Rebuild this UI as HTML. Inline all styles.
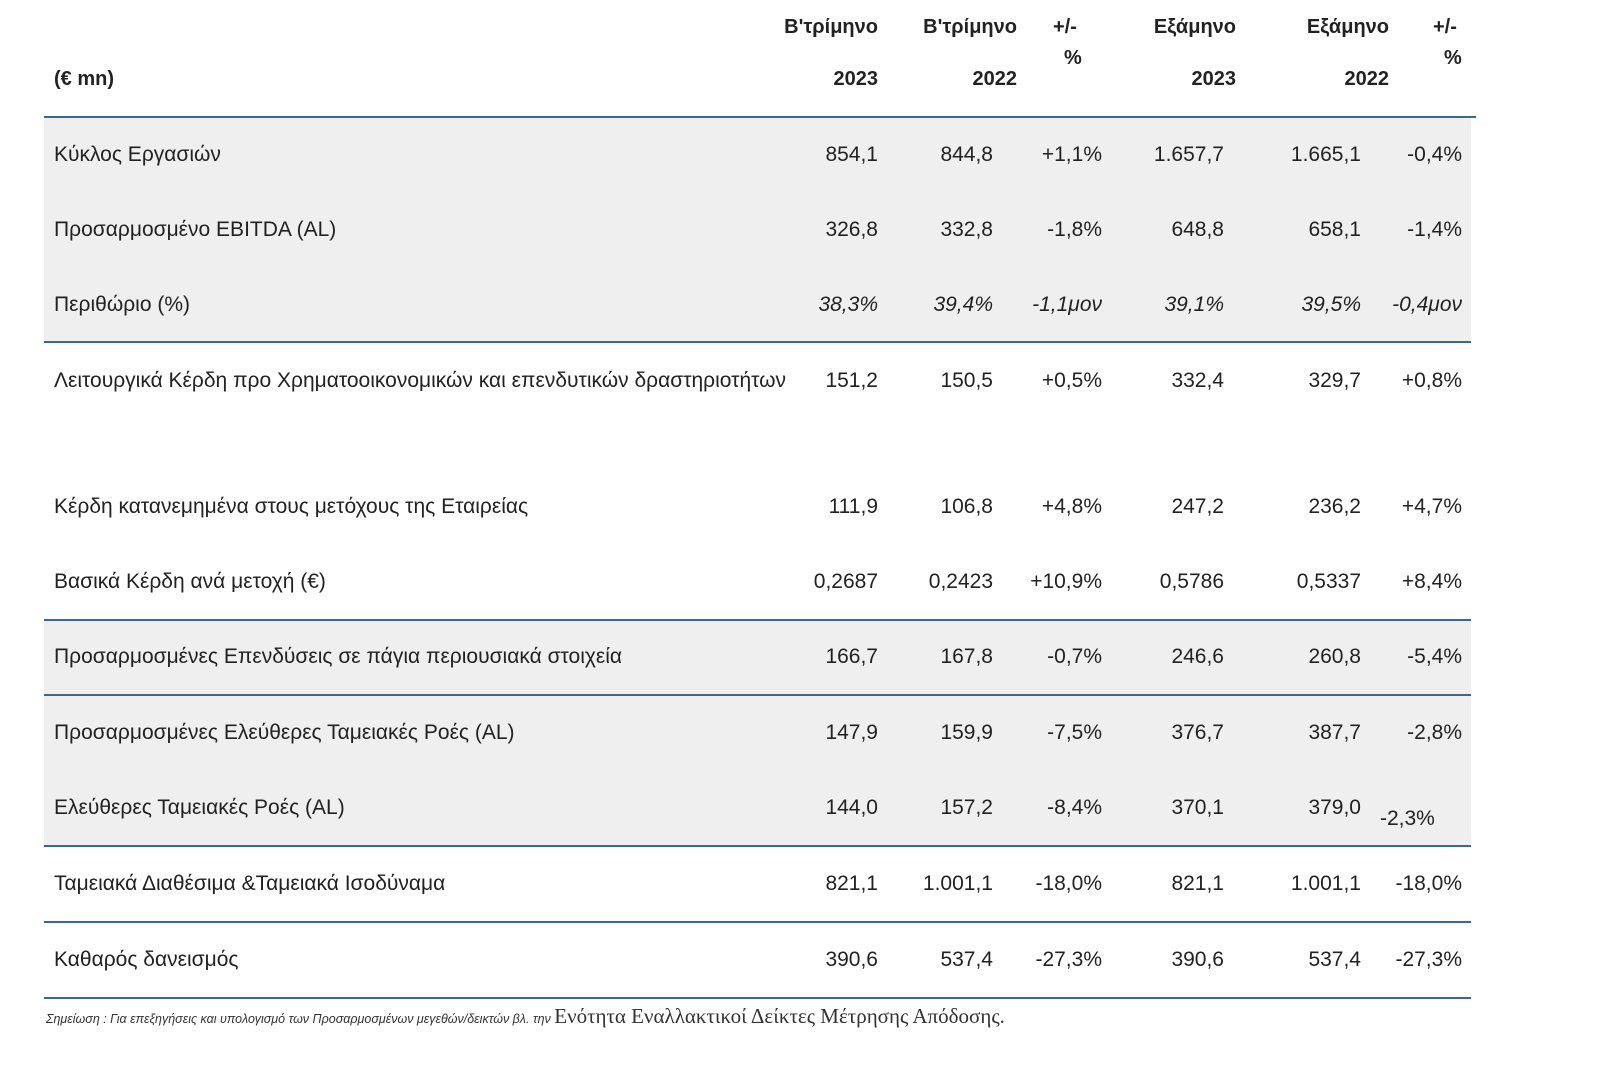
<!DOCTYPE html>
<html><head><meta charset="utf-8"><style>
body{margin:0;width:1600px;height:1081px;background:#fff;position:relative;overflow:hidden;font-family:"Liberation Sans","DejaVu Sans",sans-serif;color:#222;}
.g{position:absolute;left:44px;width:1427px;background:#efefef;}
.l{position:absolute;left:44px;width:1427px;height:2px;background:#3d6791;}
.t{position:absolute;font-size:21px;line-height:24px;white-space:nowrap;}
.r{position:absolute;font-size:21px;line-height:24px;white-space:nowrap;text-align:right;width:140px;}
.b{font-weight:bold;font-size:20px;}
.i{font-style:italic;}
</style></head><body>
<div class="g" style="top:118px;height:224px"></div>
<div class="g" style="top:620px;height:226px"></div>
<div class="l" style="top:116px;width:1432px"></div>
<div class="l" style="top:341px"></div>
<div class="l" style="top:619px"></div>
<div class="l" style="top:694px"></div>
<div class="l" style="top:845px"></div>
<div class="l" style="top:921px"></div>
<div class="l" style="top:997px"></div>

<div class="t b" style="left:54px;top:67px">(€ mn)</div>
<div class="r b" style="left:738px;top:15px">Β'τρίμηνο</div>
<div class="r b" style="left:877px;top:15px">Β'τρίμηνο</div>
<div class="t b" style="left:1053px;top:15px">+/-</div>
<div class="t b" style="left:1064px;top:46px">%</div>
<div class="r b" style="left:1096px;top:15px">Εξάμηνο</div>
<div class="r b" style="left:1249px;top:15px">Εξάμηνο</div>
<div class="t b" style="left:1433px;top:15px">+/-</div>
<div class="t b" style="left:1444px;top:46px">%</div>
<div class="r b" style="left:738px;top:67px">2023</div>
<div class="r b" style="left:877px;top:67px">2022</div>
<div class="r b" style="left:1096px;top:67px">2023</div>
<div class="r b" style="left:1249px;top:67px">2022</div>

<div id="rows"></div>
<script>
var rows=[
[143,"Κύκλος Εργασιών",["854,1","844,8","+1,1%","1.657,7","1.665,1","-0,4%"]],
[218,"Προσαρμοσμένο EBITDA (AL)",["326,8","332,8","-1,8%","648,8","658,1","-1,4%"]],
[293,"Περιθώριο (%)",["38,3%","39,4%","-1,1μον","39,1%","39,5%","-0,4μον"],1],
[369,"Λειτουργικά Κέρδη προ Χρηματοοικονομικών και επενδυτικών δραστηριοτήτων",["151,2","150,5","+0,5%","332,4","329,7","+0,8%"]],
[495,"Κέρδη κατανεμημένα στους μετόχους της Εταιρείας",["111,9","106,8","+4,8%","247,2","236,2","+4,7%"]],
[570,"Βασικά Κέρδη ανά μετοχή (€)",["0,2687","0,2423","+10,9%","0,5786","0,5337","+8,4%"]],
[645,"Προσαρμοσμένες Επενδύσεις σε πάγια περιουσιακά στοιχεία",["166,7","167,8","-0,7%","246,6","260,8","-5,4%"]],
[721,"Προσαρμοσμένες Ελεύθερες Ταμειακές Ροές (AL)",["147,9","159,9","-7,5%","376,7","387,7","-2,8%"]],
[796,"Ελεύθερες Ταμειακές Ροές (AL)",["144,0","157,2","-8,4%","370,1","379,0",""]],
[872,"Ταμειακά Διαθέσιμα &Ταμειακά Ισοδύναμα",["821,1","1.001,1","-18,0%","821,1","1.001,1","-18,0%"]],
[948,"Καθαρός δανεισμός",["390,6","537,4","-27,3%","390,6","537,4","-27,3%"]]
];
var rights=[878,993,1102,1224,1361,1462],h="";
rows.forEach(function(r){
h+='<div class="t" style="left:54px;top:'+r[0]+'px">'+r[1]+'</div>';
r[2].forEach(function(v,i){h+='<div class="r'+(r[3]?' i':'')+'" style="left:'+(rights[i]-140)+'px;top:'+r[0]+'px">'+v+'</div>';});
});
document.getElementById('rows').innerHTML=h;
</script>
<div class="t" style="left:1380px;top:807px">-2,3%</div>
<div style="position:absolute;left:46px;top:1004px;white-space:nowrap;"><span style="font-size:12.5px;font-style:italic;color:#333">Σημείωση : Για επεξηγήσεις και υπολογισμό των Προσαρμοσμένων μεγεθών/δεικτών βλ. την </span><span style="font-family:'Liberation Serif',serif;font-size:21px;color:#333">Ενότητα Εναλλακτικοί Δείκτες Μέτρησης Απόδοσης.</span></div>
</body></html>
